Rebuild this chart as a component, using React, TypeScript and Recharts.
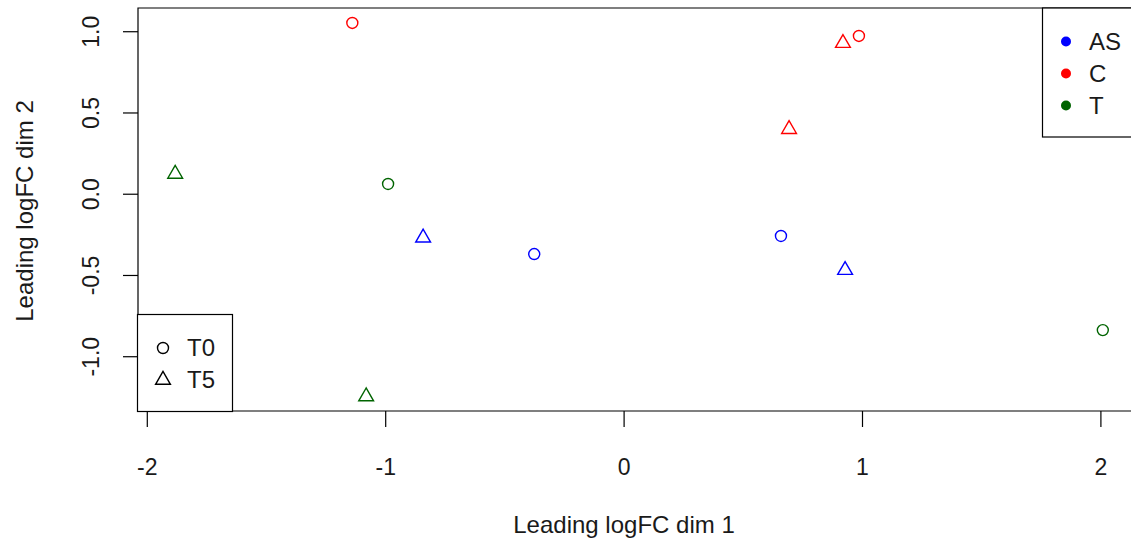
import { ScatterChart, Scatter, XAxis, YAxis, ReferenceArea } from "recharts";

// MDS plot: leading logFC dims, grouped by treatment (colour) and timepoint (shape)
const groups = ["AS", "C", "T"];
const groupColors = ["#0000ff", "#ff0000", "#006400"];
const timepoints = ["T0", "T5"];

const asT0 = [
  { x: -0.377, y: -0.368 },
  { x: 0.658, y: -0.257 },
];
const asT5 = [
  { x: -0.843, y: -0.268 },
  { x: 0.927, y: -0.467 },
];
const cT0 = [
  { x: -1.14, y: 1.054 },
  { x: 0.985, y: 0.974 },
];
const cT5 = [
  { x: 0.918, y: 0.93 },
  { x: 0.692, y: 0.4 },
];
const tT0 = [
  { x: -0.99, y: 0.063 },
  { x: 2.008, y: -0.836 },
];
const tT5 = [
  { x: -1.883, y: 0.125 },
  { x: -1.082, y: -1.245 },
];

const xTicks = [-2, -1, 0, 1, 2];
const yTicks = [-1, -0.5, 0, 0.5, 1];
const xDomain = [-2.039, 2.164];
const yDomain = [-1.334, 1.146];

const FONT = "'Liberation Sans', Arial, sans-serif";
const FS = 23;
const TITLE_FS = 24;
const TXT = "#1a1a1a";
const R = 5.5;

const hollowCircle = (color: string) => (p: any) =>
  <circle cx={p.cx} cy={p.cy} r={R} fill="none" stroke={color} strokeWidth={1.4} />;

const hollowTriangle = (color: string) => (p: any) => {
  const top = 1.555 * R;
  const half = 1.347 * R;
  const base = 0.778 * R;
  const pts = `${p.cx},${p.cy - top} ${p.cx - half},${p.cy + base} ${p.cx + half},${p.cy + base}`;
  return <polygon points={pts} fill="none" stroke={color} strokeWidth={1.4} />;
};

const XTick = ({ x, y, payload }: any) => (
  <text x={x} y={y + 46} textAnchor="middle" fontSize={FS} fill={TXT} fontFamily={FONT}>
    {String(payload.value)}
  </text>
);

const YTick = ({ x, y, payload }: any) => {
  const tx = x - 22;
  return (
    <text
      x={tx}
      y={y}
      transform={`rotate(-90, ${tx}, ${y})`}
      textAnchor="middle"
      fontSize={FS}
      fill={TXT}
      fontFamily={FONT}
    >
      {payload.value.toFixed(1)}
    </text>
  );
};

const series = [
  { data: asT0, color: groupColors[0], shape: hollowCircle },
  { data: asT5, color: groupColors[0], shape: hollowTriangle },
  { data: cT0, color: groupColors[1], shape: hollowCircle },
  { data: cT5, color: groupColors[1], shape: hollowTriangle },
  { data: tT0, color: groupColors[2], shape: hollowCircle },
  { data: tT5, color: groupColors[2], shape: hollowTriangle },
];

const Overlay = () => (
  <svg
    width={1131}
    height={543}
    style={{ position: "absolute", left: 0, top: 0, pointerEvents: "none" }}
    fontFamily={FONT}
  >
    <text x={624} y={533} textAnchor="middle" fontSize={TITLE_FS} fill={TXT}>
      Leading logFC dim 1
    </text>
    <text
      x={33}
      y={211}
      transform="rotate(-90, 33, 211)"
      textAnchor="middle"
      fontSize={TITLE_FS}
      fill={TXT}
    >
      Leading logFC dim 2
    </text>

    {/* colour legend, top right */}
    <rect x={1042.5} y={8} width={120} height={129} fill="#fff" stroke="#000" strokeWidth={1.2} />
    {groups.map((g, i) => (
      <g key={g}>
        <circle cx={1066} cy={41.5 + i * 32} r={5} fill={groupColors[i]} />
        <text x={1089} y={50 + i * 32} fontSize={TITLE_FS} fill={TXT}>
          {g}
        </text>
      </g>
    ))}

    {/* shape legend, bottom left */}
    <rect x={137.5} y={314.5} width={95} height={97} fill="#fff" stroke="#000" strokeWidth={1.2} />
    {timepoints.map((t, i) => {
      const cx = 163;
      const cy = 348 + i * 32;
      return (
        <g key={t}>
          {i === 0
            ? hollowCircle("#000")({ cx, cy })
            : hollowTriangle("#000")({ cx, cy })}
          <text x={187} y={cy + 8} fontSize={TITLE_FS} fill={TXT}>
            {t}
          </text>
        </g>
      );
    })}
  </svg>
);

export default function App() {
  return (
    <div
      style={{
        position: "absolute",
        left: 0,
        top: 0,
        width: 1131,
        height: 543,
        overflow: "hidden",
        background: "#fff",
        fontFamily: FONT,
      }}
    >
      <ScatterChart
        width={1150}
        height={543}
        margin={{ top: 8, right: 10, bottom: 0, left: 0 }}
      >
        <XAxis
          type="number"
          dataKey="x"
          domain={xDomain}
          ticks={xTicks}
          allowDataOverflow
          axisLine={false}
          tickSize={16}
          tickLine={{ stroke: "#000", strokeWidth: 1.2 }}
          tick={<XTick />}
          height={132}
        />
        <YAxis
          type="number"
          dataKey="y"
          domain={yDomain}
          ticks={yTicks}
          allowDataOverflow
          axisLine={false}
          tickSize={15}
          tickLine={{ stroke: "#000", strokeWidth: 1.2 }}
          tick={<YTick />}
          width={138}
        />
        <ReferenceArea
          x1={xDomain[0]}
          x2={xDomain[1]}
          y1={yDomain[0]}
          y2={yDomain[1]}
          fill="none"
          fillOpacity={0}
          stroke="#000"
          strokeWidth={1.2}
          ifOverflow="visible"
        />
        {series.map((s, i) => (
          <Scatter
            key={i}
            data={s.data}
            shape={s.shape(s.color)}
            isAnimationActive={false}
          />
        ))}
      </ScatterChart>
      <Overlay />
    </div>
  );
}
